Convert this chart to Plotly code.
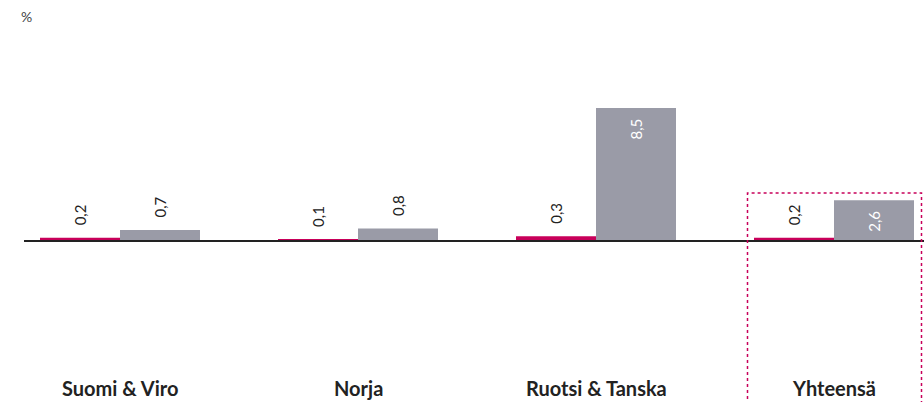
import plotly.graph_objects as go

categories = ["Suomi & Viro", "Norja", "Ruotsi & Tanska", "Yhteensä"]
series_a = [0.2, 0.1, 0.3, 0.2]
series_b = [0.7, 0.8, 8.5, 2.6]
# labels that sit inside the gray bar (white text) instead of above it
inside_b = [False, False, True, True]

RED = "#C8005A"
GRAY = "#9A9BA7"
DARK = "#222222"
FONT = "Lato"

fig = go.Figure()
fig.add_trace(go.Bar(x=list(range(len(categories))), y=series_a, marker_color=RED,
                     marker_line_width=0, hoverinfo="skip"))
fig.add_trace(go.Bar(x=list(range(len(categories))), y=series_b, marker_color=GRAY,
                     marker_line_width=0, hoverinfo="skip"))

annotations = []
px_per_unit_x = 238.0
bar_px = 80
for i, (a, b, ins) in enumerate(zip(series_a, series_b, inside_b)):
    annotations.append(dict(
        x=i, y=a, xref="x", yref="y", xshift=-bar_px / 2, yshift=10,
        text=f"{a:.1f}".replace(".", ","), textangle=-90, showarrow=False,
        xanchor="center", yanchor="bottom",
        font=dict(family=FONT, size=15, color=DARK)))
    annotations.append(dict(
        x=i, y=b, xref="x", yref="y", xshift=bar_px / 2,
        yshift=-9 if ins else 10,
        text=f"{b:.1f}".replace(".", ","), textangle=-90, showarrow=False,
        xanchor="center", yanchor="top" if ins else "bottom",
        font=dict(family=FONT, size=15, color="white" if ins else DARK)))
for i, c in enumerate(categories):
    annotations.append(dict(
        x=i, y=1 - 388 / 402, xref="x", yref="paper", text=f"<b>{c}</b>", showarrow=False,
        xanchor="center", yanchor="middle",
        font=dict(family=FONT, size=20, color=DARK)))
annotations.append(dict(
    x=19 / 924, y=1 - 16 / 402, xref="paper", yref="paper", text="%", showarrow=False,
    xanchor="left", yanchor="middle", font=dict(family=FONT, size=14, color="#444444")))

x_lo = -120 / px_per_unit_x
x_hi = 3 + 90 / px_per_unit_x

shapes = [
    # baseline
    dict(type="line", xref="x", yref="y", x0=x_lo + 24 / px_per_unit_x, x1=x_hi, y0=0, y1=0,
         line=dict(color=DARK, width=2)),
    # highlight frame around the total
    dict(type="rect", xref="paper", yref="paper", x0=747.5 / 924, x1=921.5 / 924,
         y0=-0.05, y1=1 - 193 / 402, line=dict(color=RED, width=1.5, dash="dot"),
         fillcolor="rgba(0,0,0,0)"),
]

fig.update_layout(
    width=924, height=402,
    margin=dict(l=0, r=0, t=0, b=0),
    paper_bgcolor="white", plot_bgcolor="white",
    barmode="group", bargap=1 - 2 * bar_px / px_per_unit_x, bargroupgap=0,
    showlegend=False,
    xaxis=dict(range=[x_lo, x_hi], visible=False, fixedrange=True),
    yaxis=dict(range=[-(402 - 241) / 15.65, 241 / 15.65], visible=False, fixedrange=True),
    annotations=annotations, shapes=shapes,
    font=dict(family=FONT),
)

fig.write_html("out.html")
